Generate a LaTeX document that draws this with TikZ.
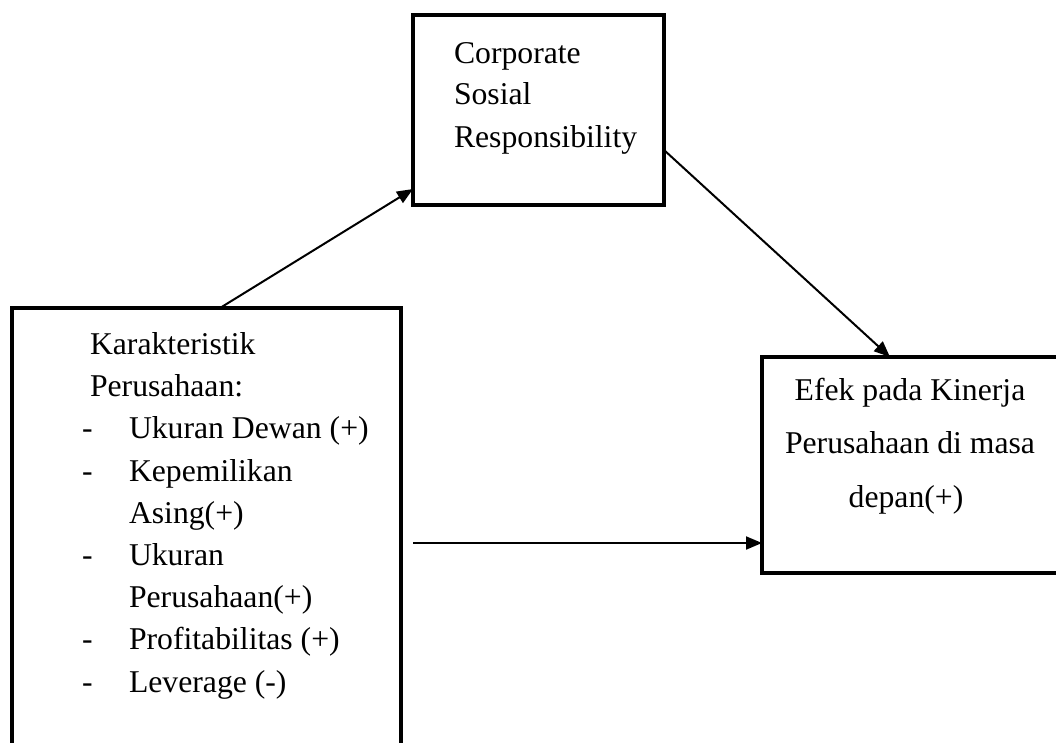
\documentclass[tikz,border=0pt]{standalone}
\usepackage{fontspec}
\setmainfont{Liberation Serif}
\usetikzlibrary{arrows.meta,calc}
\begin{document}
\begin{tikzpicture}[x=1pt,y=-1pt,
  box/.style={draw,line width=4.5pt,rectangle,inner sep=0pt,outer sep=0pt,anchor=north west},
  txt/.style={inner sep=0pt,outer sep=0pt,anchor=base west,font=\fontsize{31.7}{38}\selectfont},
  ctxt/.style={txt,anchor=base},
  arr/.style={line width=2pt,-{Triangle[length=16pt,width=13pt]}}]
\clip (0,0) rectangle (1056,742);
\fill[white] (0,0) rectangle (1056,742);
% boxes
\node[box,minimum width=389pt,minimum height=470pt] (kar) at (12,308) {};
\node[box,minimum width=251pt,minimum height=190pt] (csr) at (413,15) {};
\node[box,minimum width=330pt,minimum height=216pt] (efek) at (762,357) {};
% left box text
\node[txt] (k1) at (90,354) {Karakteristik};
\node[txt] (k2) at (90,396) {Perusahaan:};
\node[txt] (d1) at (82,438) {-};
\node[txt] (k3) at (129,438) {Ukuran Dewan (+)};
\node[txt] (d2) at (82,481) {-};
\node[txt] (k4) at (129,481) {Kepemilikan};
\node[txt] (k5) at (129,523) {Asing(+)};
\node[txt] (d3) at (82,565) {-};
\node[txt] (k6) at (129,565) {Ukuran};
\node[txt] (k7) at (129,607) {Perusahaan(+)};
\node[txt] (d4) at (82,649) {-};
\node[txt] (k8) at (129,649) {Profitabilitas (+)};
\node[txt] (d5) at (82,692) {-};
\node[txt] (k9) at (129,692) {Leverage (-)};
% csr text
\node[txt] (c1) at (454,63) {Corporate};
\node[txt] (c2) at (454,104) {Sosial};
\node[txt] (c3) at (454,147) {Responsibility};
% efek text
\node[ctxt] (e1) at (910,400) {Efek pada Kinerja};
\node[ctxt] (e2) at (910,453) {Perusahaan di masa};
\node[ctxt] (e3) at (906,507) {depan(+)};
% connectors
\draw[arr] ([xshift=208pt]kar.north west) -- ([yshift=16pt]csr.south west);
\draw[arr] ([yshift=55pt]csr.south east) -- ([xshift=128pt]efek.north west);
\draw[arr] ([xshift=12pt,yshift=-235pt]kar.north east) -- ([yshift=-186pt]efek.north west);
\end{tikzpicture}
\end{document}
